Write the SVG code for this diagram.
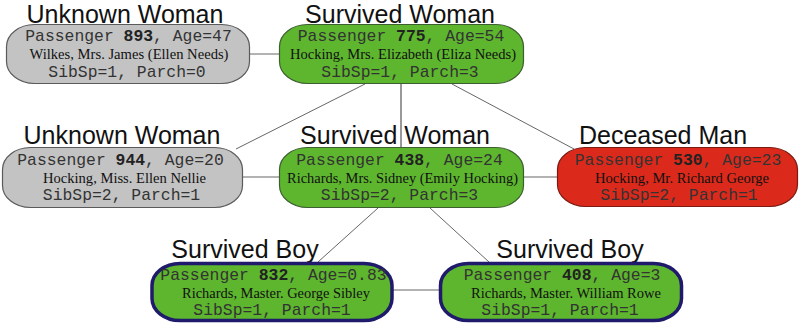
<svg xmlns="http://www.w3.org/2000/svg" width="800" height="329" viewBox="0 0 800 329">
  <style>
    .title { font-family: "Liberation Sans", Arial, sans-serif; font-size: 25px; fill: #111; text-anchor: middle; }
    .mono { font-family: "Liberation Mono", "Courier New", monospace; font-size: 16.4px; fill: #333; text-anchor: middle; }
    .bold { font-weight: bold; fill: #222; }
    .name { font-family: "Liberation Serif", "Times New Roman", serif; font-size: 15px; fill: #111; text-anchor: middle; }
    .box { stroke-width: 1.2; }
    .unknown { fill: #c3c3c3; stroke: #5a5a5a; }
    .survived { fill: #5db62e; stroke: #3d5e30; }
    .deceased { fill: #db2a1b; stroke: #7a1a10; }
    .boy { stroke: #1f1a6b; stroke-width: 3.5; }
    .link { stroke: #666; stroke-width: 1; fill: none; }
    .vlink { stroke: #999; stroke-width: 2; fill: none; }
  </style>

  <g id="connectors">
    <line class="link" x1="250" y1="54" x2="279" y2="54"/>
    <line class="vlink" x1="401" y1="84" x2="401" y2="147"/>
    <line class="link" x1="365" y1="84" x2="236" y2="149"/>
    <line class="link" x1="452" y1="84" x2="574" y2="149"/>
    <line class="link" x1="243" y1="177" x2="279" y2="177"/>
    <line class="link" x1="524" y1="177" x2="557" y2="177"/>
    <line class="link" x1="378" y1="208" x2="318" y2="262"/>
    <line class="link" x1="430" y1="208" x2="489" y2="262"/>
    <line class="link" x1="393" y1="290" x2="439" y2="290"/>
  </g>

  <g id="p893">
    <text class="title" x="125" y="23">Unknown Woman</text>
    <rect class="box unknown" x="6.5" y="24.5" width="243" height="59" rx="28" ry="22"/>
    <text class="mono" x="128.5" y="41">Passenger <tspan class="bold">893</tspan>, Age=47</text>
    <text class="name" x="129" y="59" textLength="199" lengthAdjust="spacingAndGlyphs">Wilkes, Mrs. James (Ellen Needs)</text>
    <text class="mono" x="127" y="77">SibSp=1, Parch=0</text>
  </g>

  <g id="p775">
    <text class="title" x="400" y="23">Survived Woman</text>
    <rect class="box survived" x="279.5" y="24.5" width="244" height="59" rx="28" ry="22"/>
    <text class="mono" x="401" y="41">Passenger <tspan class="bold">775</tspan>, Age=54</text>
    <text class="name" x="403" y="59" textLength="226" lengthAdjust="spacingAndGlyphs">Hocking, Mrs. Elizabeth (Eliza Needs)</text>
    <text class="mono" x="400" y="77">SibSp=1, Parch=3</text>
  </g>

  <g id="p944">
    <text class="title" x="122" y="144">Unknown Woman</text>
    <rect class="box unknown" x="2.5" y="147.5" width="240" height="60" rx="28" ry="22"/>
    <text class="mono" x="120.5" y="165">Passenger <tspan class="bold">944</tspan>, Age=20</text>
    <text class="name" x="124.5" y="183" textLength="163" lengthAdjust="spacingAndGlyphs">Hocking, Miss. Ellen Nellie</text>
    <text class="mono" x="121.5" y="200">SibSp=2, Parch=1</text>
  </g>

  <g id="p438">
    <text class="title" x="395" y="144">Survived Woman</text>
    <rect class="box survived" x="279.5" y="147.5" width="244" height="60" rx="28" ry="22"/>
    <text class="mono" x="399.5" y="165">Passenger <tspan class="bold">438</tspan>, Age=24</text>
    <text class="name" x="402.5" y="183" textLength="231" lengthAdjust="spacingAndGlyphs">Richards, Mrs. Sidney (Emily Hocking)</text>
    <text class="mono" x="399.5" y="200">SibSp=2, Parch=3</text>
  </g>

  <g id="p530">
    <text class="title" x="663" y="144">Deceased Man</text>
    <rect class="box deceased" x="557.5" y="147.5" width="240" height="59" rx="28" ry="22"/>
    <text class="mono" x="678" y="165">Passenger <tspan class="bold">530</tspan>, Age=23</text>
    <text class="name" x="682" y="183" textLength="174" lengthAdjust="spacingAndGlyphs">Hocking, Mr. Richard George</text>
    <text class="mono" x="679" y="200">SibSp=2, Parch=1</text>
  </g>

  <g id="p832">
    <text class="title" x="245" y="258">Survived Boy</text>
    <rect class="box survived boy" x="152" y="263.5" width="240" height="57" rx="28" ry="22"/>
    <text class="mono" x="273.5" y="280">Passenger <tspan class="bold">832</tspan>, Age=0.83</text>
    <text class="name" x="276" y="298" textLength="188" lengthAdjust="spacingAndGlyphs">Richards, Master. George Sibley</text>
    <text class="mono" x="272" y="315">SibSp=1, Parch=1</text>
  </g>

  <g id="p408">
    <text class="title" x="570" y="258">Survived Boy</text>
    <rect class="box survived boy" x="440.5" y="263.5" width="241" height="57" rx="28" ry="22"/>
    <text class="mono" x="562" y="280">Passenger <tspan class="bold">408</tspan>, Age=3</text>
    <text class="name" x="566" y="298" textLength="190" lengthAdjust="spacingAndGlyphs">Richards, Master. William Rowe</text>
    <text class="mono" x="560" y="315">SibSp=1, Parch=1</text>
  </g>
</svg>
